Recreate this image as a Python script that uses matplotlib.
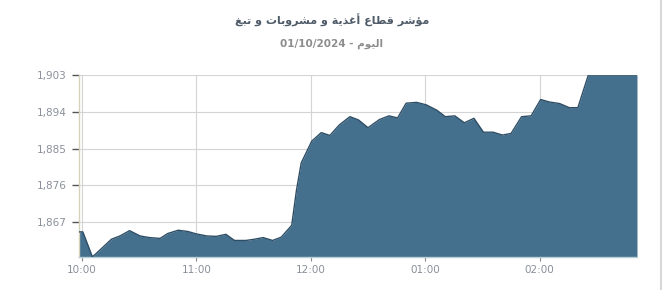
import matplotlib
matplotlib.use("Agg")
import matplotlib.pyplot as plt
import numpy as np

# ---- data ----
title_text = "مؤشر قطاع أغذية و مشروبات و تبغ"
subtitle_text = "اليوم - 01/10/2024"
minutes = [-1.5, 0.5, 5.5, 7.5, 15.5, 20, 25, 30.5, 35.5, 41, 45, 50.5, 55.5, 60,
           65.5, 70.5, 75.5, 80, 86, 90.5, 95, 100, 104.5, 110, 112.5, 115, 120.5,
           125.5, 130, 135, 140.5, 145, 150, 156, 161, 165.5, 170, 175.5, 180.5,
           186, 190.5, 195.5, 200.5, 205.5, 210.5, 215.5, 220.5, 225, 230.5, 235.5,
           240.5, 245, 250.5, 255.5, 260, 265.5, 291]
values = [1864.6, 1864.6, 1858.5, 1859.3, 1862.8, 1863.6, 1864.9, 1863.6, 1863.2,
          1863.0, 1864.2, 1865.0, 1864.7, 1864.1, 1863.6, 1863.5, 1864.0, 1862.5,
          1862.5, 1862.8, 1863.2, 1862.5, 1863.3, 1866.2, 1874.8, 1881.5, 1886.8,
          1888.9, 1888.2, 1890.8, 1892.8, 1892.0, 1890.1, 1892.1, 1893.0, 1892.5,
          1896.1, 1896.3, 1895.7, 1894.4, 1892.8, 1893.0, 1891.3, 1892.4, 1889.0,
          1889.0, 1888.3, 1888.7, 1892.8, 1893.0, 1897.0, 1896.4, 1896.0, 1895.0,
          1895.0, 1903.0, 1903.0]
x_tick_pos = [0, 60, 120, 180, 240]
x_tick_labels = ["10:00", "11:00", "12:00", "01:00", "02:00"]
y_ticks = [1867, 1876, 1885, 1894, 1903]

# ---- minimal Arabic shaping for display (matplotlib has no complex text layout) ----
FORMS = {
    'ا': ('\uFE8D', '\uFE8E', None, None), 'أ': ('\uFE83', '\uFE84', None, None),
    'ؤ': ('\uFE85', '\uFE86', None, None), 'ب': ('\uFE8F', '\uFE90', '\uFE91', '\uFE92'),
    'ة': ('\uFE93', '\uFE94', None, None), 'ت': ('\uFE95', '\uFE96', '\uFE97', '\uFE98'),
    'ذ': ('\uFEAB', '\uFEAC', None, None), 'ر': ('\uFEAD', '\uFEAE', None, None),
    'ش': ('\uFEB5', '\uFEB6', '\uFEB7', '\uFEB8'), 'ط': ('\uFEC1', '\uFEC2', '\uFEC3', '\uFEC4'),
    'ع': ('\uFEC9', '\uFECA', '\uFECB', '\uFECC'), 'غ': ('\uFECD', '\uFECE', '\uFECF', '\uFED0'),
    'ق': ('\uFED5', '\uFED6', '\uFED7', '\uFED8'), 'ل': ('\uFEDD', '\uFEDE', '\uFEDF', '\uFEE0'),
    'م': ('\uFEE1', '\uFEE2', '\uFEE3', '\uFEE4'), 'و': ('\uFEED', '\uFEEE', None, None),
    'ي': ('\uFEF1', '\uFEF2', '\uFEF3', '\uFEF4'),
}


def shape_word(w):
    if not any(c in FORMS for c in w):
        return w
    out = []
    for i, c in enumerate(w):
        if c not in FORMS:
            out.append(c)
            continue
        iso, fin, ini, med = FORMS[c]
        prev = w[i - 1] if i > 0 else None
        nxt = w[i + 1] if i + 1 < len(w) else None
        jp = prev is not None and prev in FORMS and FORMS[prev][2] is not None
        jn = nxt is not None and nxt in FORMS and ini is not None
        if jp and jn:
            out.append(med)
        elif jp:
            out.append(fin)
        elif jn:
            out.append(ini)
        else:
            out.append(iso)
    return ''.join(reversed(out))


def visual(s):
    return ' '.join(shape_word(w) for w in reversed(s.split(' ')))


# ---- figure ----
fig = plt.figure(figsize=(6.63, 2.9), dpi=100)
ax = fig.add_axes([79 / 663, 1 - 257 / 290, (637 - 79) / 663, (257 - 75) / 290])

ymin = 1858.45
ax.fill_between(minutes, values, ymin, color='#44708e', linewidth=0, zorder=2)
ax.plot(minutes, values, color='#2e4e66', linewidth=1.0, zorder=3)

ax.set_xlim(minutes[0], minutes[-1])
ax.set_ylim(ymin, 1903)

ax.set_yticks(y_ticks)
ax.set_yticklabels([f"{v:,}" for v in y_ticks])
ax.set_xticks(x_tick_pos)
ax.set_xticklabels(x_tick_labels)

ax.tick_params(axis='y', length=5, width=1.0, color='#555555', labelsize=7.5,
               labelcolor='#8a8f99', pad=4)
ax.tick_params(axis='x', length=3, width=0.8, color='#888888', labelsize=7.5,
               labelcolor='#8a8f99', pad=3)

ax.grid(True, color='#d4d4d4', linewidth=0.8, zorder=0)
ax.set_axisbelow(True)

for s in ['top', 'right']:
    ax.spines[s].set_visible(False)
ax.spines['left'].set_color('#d6d2bc')
ax.spines['left'].set_linewidth(1.0)
ax.spines['bottom'].set_color('#b9cfd6')
ax.spines['bottom'].set_linewidth(1.0)

fig.text(332 / 663, 1 - 20 / 290, visual(title_text), ha='center', va='center',
         fontsize=8, fontweight='bold', color='#4f5b68', family='DejaVu Sans')
fig.text(332 / 663, 1 - 44 / 290, visual(subtitle_text), ha='center', va='center',
         fontsize=7.5, fontweight='bold', color='#8d8d8d', family='DejaVu Sans')

# right-side light border
fig.add_artist(plt.Line2D([661 / 663, 661 / 663], [0, 1], color='#d8d8d8',
                          linewidth=1.5, transform=fig.transFigure))

fig.savefig('out.png', dpi=100)
